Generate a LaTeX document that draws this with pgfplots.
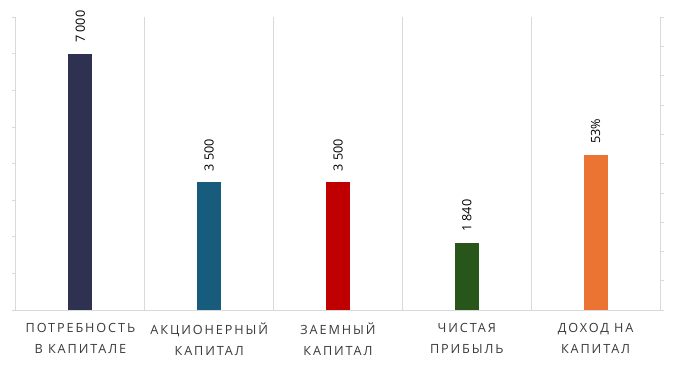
\documentclass[border=0pt]{standalone}
\usepackage{pgfplots}
\pgfplotsset{compat=1.18}
\usepackage{fontspec}
\setmainfont{Open Sans}
\definecolor{gridgray}{HTML}{D9D9D9}
\definecolor{labgray}{HTML}{3A3A3A}
\definecolor{cA}{HTML}{2E3150}
\definecolor{cB}{HTML}{175C7C}
\definecolor{cC}{HTML}{C00000}
\definecolor{cD}{HTML}{28561A}
\definecolor{cE}{HTML}{EC7433}
\begin{document}
\begin{tikzpicture}
\pgfplotsset{
  common/.style={
    scale only axis, width=483pt, height=219.75pt,
    xmin=-0.5, xmax=4.5,
    axis line style={draw=gridgray, line width=0.75pt, -},
    tick style={draw=gridgray, line width=0.75pt},
    major tick length=3pt,
    tick align=outside,
    ybar, bar width=18pt, bar shift=0pt,
    /pgf/number format/assume math mode=true,
    /pgf/number format/1000 sep={\ },
    nodes near coords style={font=\fontsize{9.5}{12}\selectfont, text=black, rotate=90, anchor=west, inner xsep=8pt},
  }
}
\begin{axis}[common,
  ymin=0, ymax=8000,
  axis x line*=bottom, axis y line*=left,
  ytick={0,1000,...,8000}, yticklabels={},
  xtick={0,1,2,3,4},
  xtick style={draw=none},
  xticklabels={ПОТРЕБНОСТЬ\\В КАПИТАЛЕ, АКЦИОНЕРНЫЙ\\КАПИТАЛ, ЗАЕМНЫЙ\\КАПИТАЛ, ЧИСТАЯ\\ПРИБЫЛЬ, ДОХОД НА\\КАПИТАЛ},
  xticklabel style={align=center, text=labgray, font=\fontsize{9.5}{16}\selectfont\addfontfeature{LetterSpace=15}, yshift=-3pt},
  extra x ticks={0.5,1.5,2.5,3.5},
  extra x tick labels={},
  extra x tick style={grid=major, major grid style={draw=gridgray, line width=0.75pt}, tick style={draw=none}},
  nodes near coords,
]
\addplot[fill=cA, draw=none] coordinates {(0,7000)};
\addplot[fill=cB, draw=none] coordinates {(1,3500)};
\addplot[fill=cC, draw=none] coordinates {(2,3500)};
\addplot[fill=cD, draw=none] coordinates {(3,1840)};
\end{axis}
\begin{axis}[common,
  ymin=0, ymax=1,
  axis x line=none, axis y line*=right,
  ytick={0,0.1,...,1.01}, yticklabels={},
  xtick=\empty,
  point meta=explicit symbolic,
  nodes near coords={\pgfplotspointmeta\%},
]
\addplot[fill=cE, draw=none] coordinates {(4,0.53) [53]};
\end{axis}
\path[use as bounding box] (-12pt,-42pt) rectangle (495pt,232.5pt);
\end{tikzpicture}
\end{document}
